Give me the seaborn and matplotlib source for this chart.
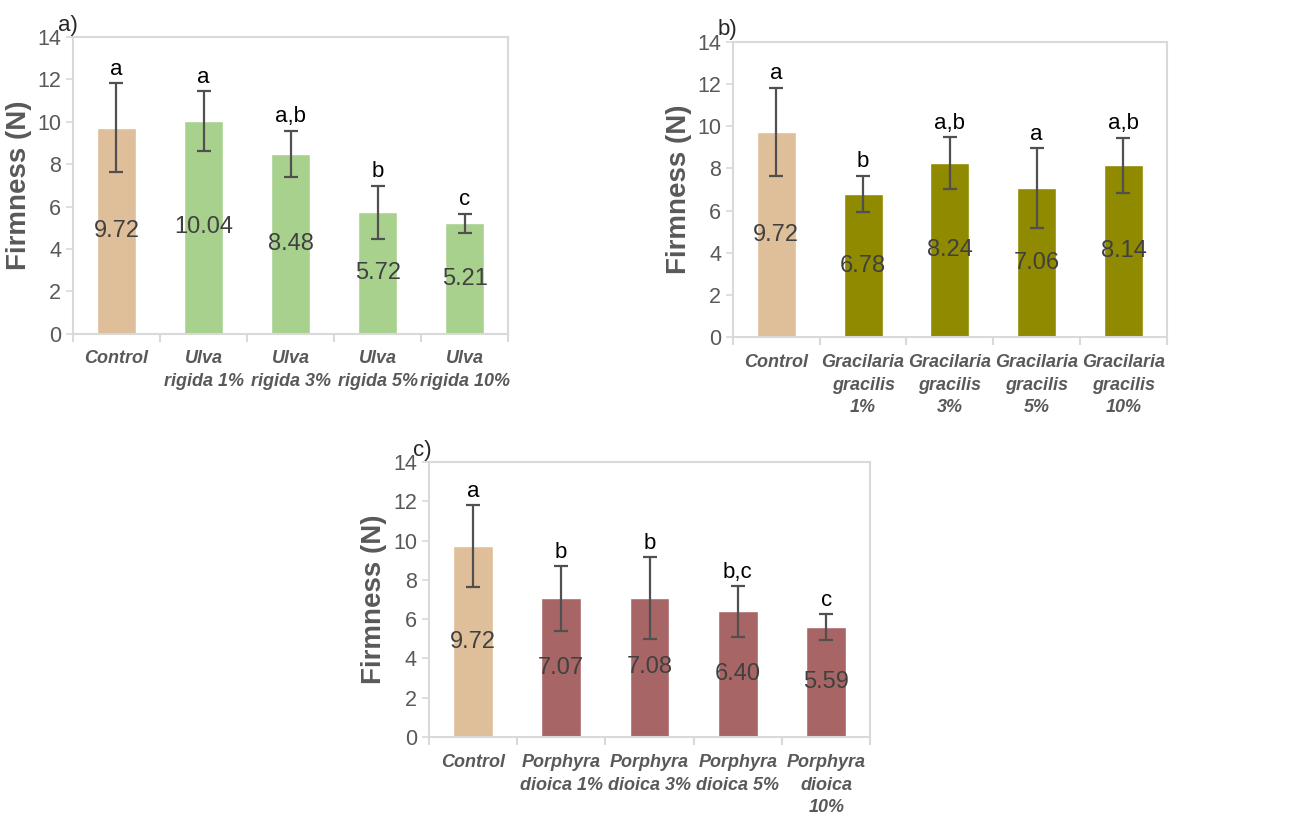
import matplotlib
matplotlib.use("Agg")
import matplotlib.pyplot as plt
import seaborn as sns
import pandas as pd
import numpy as np

sns.set_theme(style="white")
plt.rcParams['font.family'] = ['Liberation Sans', 'DejaVu Sans']

# panel a) Ulva rigida
labels_a = ["Control", "Ulva\nrigida 1%", "Ulva\nrigida 3%", "Ulva\nrigida 5%", "Ulva\nrigida 10%"]
means_a = [9.72, 10.04, 8.48, 5.72, 5.21]
err_a = [2.1, 1.4, 1.1, 1.26, 0.46]
letters_a = ["a", "a", "a,b", "b", "c"]

# panel b) Gracilaria gracilis
labels_b = ["Control", "Gracilaria\ngracilis\n1%", "Gracilaria\ngracilis\n3%",
            "Gracilaria\ngracilis\n5%", "Gracilaria\ngracilis\n10%"]
means_b = [9.72, 6.78, 8.24, 7.06, 8.14]
err_b = [2.1, 0.87, 1.24, 1.9, 1.31]
letters_b = ["a", "b", "a,b", "a", "a,b"]

# panel c) Porphyra dioica
labels_c = ["Control", "Porphyra\ndioica 1%", "Porphyra\ndioica 3%", "Porphyra\ndioica 5%",
            "Porphyra\ndioica\n10%"]
means_c = [9.72, 7.07, 7.08, 6.40, 5.59]
err_c = [2.1, 1.65, 2.09, 1.3, 0.66]
letters_c = ["a", "b", "b", "b,c", "c"]

control_color = "#DFBE9A"
grey_txt = "#595959"
border = "#D9D9D9"


def draw_panel(ax, labels, means, errs, letters, color, tag):
    df = pd.DataFrame({"group": labels, "firmness": means})
    pal = [control_color] + [color] * (len(labels) - 1)
    sns.barplot(data=df, x="group", y="firmness", hue="group", palette=pal,
                legend=False, errorbar=None, width=0.45, saturation=1, ax=ax)
    x = np.arange(len(labels))
    ax.errorbar(x, means, yerr=errs, fmt="none", ecolor="#505050",
                elinewidth=1.6, capsize=5, capthick=1.6)
    for xi, m, e, lt in zip(x, means, errs, letters):
        ax.text(xi, m / 2, f"{m:.2f}", ha="center", va="center",
                fontsize=17, color="#404040")
        ax.text(xi, m + e + 0.4, lt, ha="center", va="baseline",
                fontsize=16, color="black")
    ax.set_ylim(0, 14)
    ax.set_xlim(-0.5, len(labels) - 0.5)
    ax.set_yticks(range(0, 15, 2))
    ax.tick_params(axis="y", labelsize=15.5, labelcolor=grey_txt, length=5,
                   color=border, left=True, width=1.2)
    ax.set_xticks(x)
    ax.set_xticklabels(labels, fontsize=13, fontweight="bold", style="italic",
                       color=grey_txt, linespacing=1.45)
    ax.tick_params(axis="x", length=0, pad=12)
    ax.set_xticks(np.arange(-0.5, len(labels), 1), minor=True)
    ax.tick_params(axis="x", which="minor", length=6, color=border, width=1.5,
                   bottom=True)
    ax.set_xlabel("")
    ax.set_ylabel("Firmness (N)", fontsize=20, fontweight="bold", color=grey_txt,
                  labelpad=4)
    for sp in ax.spines.values():
        sp.set_color(border)
        sp.set_linewidth(1.5)
    ax.text(-0.035, 1.005, tag, transform=ax.transAxes, fontsize=16,
            ha="left", va="bottom")


fig = plt.figure(figsize=(13.03, 8.22), dpi=100)
ax_a = fig.add_axes([0.056, 0.594, 0.334, 0.361])
ax_b = fig.add_axes([0.5625, 0.590, 0.333, 0.359])
ax_c = fig.add_axes([0.329, 0.1034, 0.339, 0.3345])

draw_panel(ax_a, labels_a, means_a, err_a, letters_a, "#A9D18E", "a)")
draw_panel(ax_b, labels_b, means_b, err_b, letters_b, "#8F8A00", "b)")
draw_panel(ax_c, labels_c, means_c, err_c, letters_c, "#A76565", "c)")

fig.savefig("out.png", dpi=100)
